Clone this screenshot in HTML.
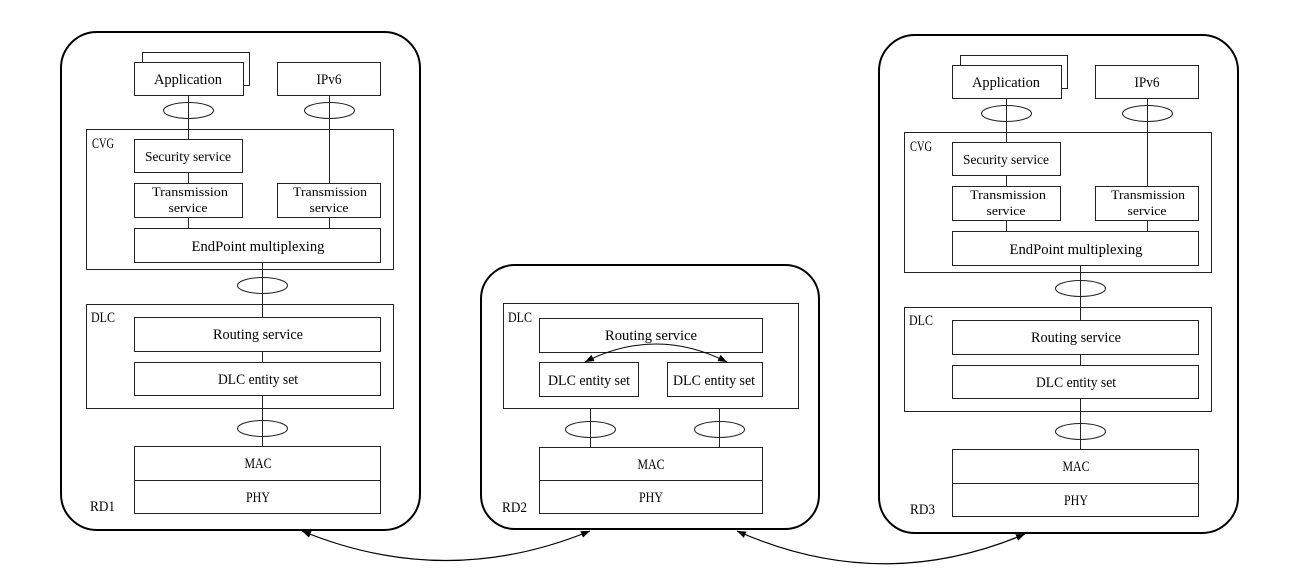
<!DOCTYPE html>
<html>
<head>
<meta charset="utf-8">
<style>
html,body{margin:0;padding:0;background:#fff;}
svg{display:block;}
text{font-family:"Liberation Serif",serif;font-size:15px;fill:#000;}
text.sm{font-size:13px;}
text.md{font-size:14px;}
</style>
</head>
<body>
<svg width="1300" height="586" viewBox="0 0 1300 586" xmlns="http://www.w3.org/2000/svg">
<defs>
<marker id="ah" viewBox="0 0 9 7" refX="9" refY="3.5" markerWidth="9" markerHeight="7" markerUnits="userSpaceOnUse" orient="auto-start-reverse">
<path d="M0,0 L9,3.5 L0,7 z" fill="#000"/>
</marker>
<g id="rdA">
  <rect x="61" y="32" width="359" height="498" rx="36" ry="36" fill="none" stroke="#000" stroke-width="2"/>
  <g transform="translate(0.5,0.5)" stroke="#222" stroke-width="1" fill="#fff">
    <rect x="142" y="52" width="107" height="33"/>
    <rect x="134" y="62" width="109" height="33"/>
    <rect x="277" y="62" width="103" height="33"/>
    <rect x="86" y="129" width="307" height="140" fill="none"/>
    <rect x="134" y="139" width="108" height="33"/>
    <rect x="134" y="183" width="108" height="34"/>
    <rect x="277" y="183" width="103" height="34"/>
    <rect x="134" y="228" width="246" height="34"/>
    <rect x="86" y="304" width="307" height="104" fill="none"/>
    <rect x="134" y="317" width="246" height="34"/>
    <rect x="134" y="362" width="246" height="33"/>
    <rect x="134" y="446" width="246" height="34"/>
    <rect x="134" y="480" width="246" height="33"/>
    <ellipse cx="188" cy="110" rx="25" ry="8" fill="none"/>
    <ellipse cx="329" cy="110" rx="25" ry="8" fill="none"/>
    <ellipse cx="262" cy="285" rx="25" ry="8" fill="none"/>
    <ellipse cx="262" cy="428" rx="25" ry="8" fill="none"/>
    <path d="M188,95 V139 M188,172 V183 M188,217 V228 M329,95 V183 M329,217 V228 M262,262 V317 M262,351 V362 M262,395 V446" fill="none"/>
  </g>
  <text x="188" y="84" text-anchor="middle" textLength="68" lengthAdjust="spacingAndGlyphs">Application</text>
  <text x="329" y="84" text-anchor="middle" textLength="25" lengthAdjust="spacingAndGlyphs">IPv6</text>
  <text x="92" y="148" textLength="22" lengthAdjust="spacingAndGlyphs">CVG</text>
  <text class="md" x="188" y="161" text-anchor="middle" textLength="86" lengthAdjust="spacingAndGlyphs">Security service</text>
  <text class="sm" x="190" y="196" text-anchor="middle" textLength="76" lengthAdjust="spacingAndGlyphs">Transmission</text>
  <text class="sm" x="188" y="212" text-anchor="middle" textLength="39" lengthAdjust="spacingAndGlyphs">service</text>
  <text class="sm" x="330" y="196" text-anchor="middle" textLength="74" lengthAdjust="spacingAndGlyphs">Transmission</text>
  <text class="sm" x="329" y="212" text-anchor="middle" textLength="39" lengthAdjust="spacingAndGlyphs">service</text>
  <text x="258" y="251" text-anchor="middle" textLength="133" lengthAdjust="spacingAndGlyphs">EndPoint multiplexing</text>
  <text x="91" y="322" textLength="24" lengthAdjust="spacingAndGlyphs">DLC</text>
  <text x="258" y="339" text-anchor="middle" textLength="90" lengthAdjust="spacingAndGlyphs">Routing service</text>
  <text x="258" y="384" text-anchor="middle" textLength="80" lengthAdjust="spacingAndGlyphs">DLC entity set</text>
  <text x="258" y="468" text-anchor="middle" textLength="27" lengthAdjust="spacingAndGlyphs">MAC</text>
  <text x="258" y="502" text-anchor="middle" textLength="24" lengthAdjust="spacingAndGlyphs">PHY</text>
</g>
</defs>

<!-- RD1 -->
<use href="#rdA"/>
<text x="90" y="511" textLength="25" lengthAdjust="spacingAndGlyphs">RD1</text>

<!-- RD3 -->
<use href="#rdA" transform="translate(818,3)"/>
<text x="910" y="514" textLength="25" lengthAdjust="spacingAndGlyphs">RD3</text>

<!-- RD2 -->
<rect x="481" y="265" width="338" height="264" rx="34" ry="34" fill="none" stroke="#000" stroke-width="2"/>
<g transform="translate(0.5,0.5)" stroke="#222" stroke-width="1" fill="#fff">
  <rect x="503" y="303" width="295" height="105" fill="none"/>
  <rect x="539" y="318" width="223" height="34"/>
  <rect x="539" y="362" width="99" height="34"/>
  <rect x="667" y="362" width="95" height="34"/>
  <rect x="539" y="447" width="223" height="33"/>
  <rect x="539" y="480" width="223" height="33"/>
  <ellipse cx="590" cy="429" rx="25" ry="8" fill="none"/>
  <ellipse cx="719" cy="429" rx="25" ry="8" fill="none"/>
  <path d="M590,408 V447 M719,408 V447" fill="none"/>
</g>
<text x="508" y="322" textLength="24" lengthAdjust="spacingAndGlyphs">DLC</text>
<text x="651" y="340" text-anchor="middle" textLength="92" lengthAdjust="spacingAndGlyphs">Routing service</text>
<text x="589" y="385" text-anchor="middle" textLength="82" lengthAdjust="spacingAndGlyphs">DLC entity set</text>
<text x="714" y="385" text-anchor="middle" textLength="82" lengthAdjust="spacingAndGlyphs">DLC entity set</text>
<text x="651" y="469" text-anchor="middle" textLength="27" lengthAdjust="spacingAndGlyphs">MAC</text>
<text x="651" y="502" text-anchor="middle" textLength="24" lengthAdjust="spacingAndGlyphs">PHY</text>
<text x="502" y="512" textLength="25" lengthAdjust="spacingAndGlyphs">RD2</text>

<!-- inner double arrow in RD2 -->
<path d="M585,362 Q656,326 727,362" fill="none" stroke="#000" stroke-width="1" marker-start="url(#ah)" marker-end="url(#ah)"/>

<!-- bottom double arrows -->
<path d="M302,531 Q446,590 590,531" fill="none" stroke="#000" stroke-width="1.2" marker-start="url(#ah)" marker-end="url(#ah)"/>
<path d="M737,531 Q881,595 1025,534" fill="none" stroke="#000" stroke-width="1.2" marker-start="url(#ah)" marker-end="url(#ah)"/>
</svg>
</body>
</html>
